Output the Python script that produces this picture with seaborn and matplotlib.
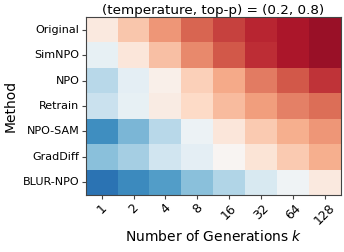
import numpy as np
import pandas as pd
import seaborn as sns
import matplotlib
matplotlib.use("Agg")
import matplotlib.pyplot as plt

methods = ["Original", "SimNPO", "NPO", "Retrain", "NPO-SAM", "GradDiff", "BLUR-NPO"]
ks = ["1", "2", "4", "8", "16", "32", "64", "128"]

original = [0.55, 0.64, 0.72, 0.79, 0.84, 0.88, 0.91, 0.93]
simnpo = [0.46, 0.56, 0.65, 0.74, 0.81, 0.87, 0.91, 0.93]
npo = [0.36, 0.45, 0.53, 0.62, 0.69, 0.76, 0.81, 0.86]
retrain = [0.39, 0.46, 0.54, 0.60, 0.66, 0.71, 0.75, 0.78]
npo_sam = [0.19, 0.27, 0.36, 0.47, 0.56, 0.63, 0.68, 0.72]
graddiff = [0.29, 0.33, 0.40, 0.45, 0.51, 0.57, 0.63, 0.68]
blur_npo = [0.13, 0.18, 0.22, 0.29, 0.35, 0.42, 0.48, 0.55]

df = pd.DataFrame([original, simnpo, npo, retrain, npo_sam, graddiff, blur_npo],
                  index=methods, columns=ks)

fig = plt.figure(figsize=(3.44, 2.52), dpi=100)
ax = fig.add_axes([0.249, 0.226, 0.742, 0.707])
sns.heatmap(df, cmap="RdBu_r", vmin=0, vmax=1, cbar=False, ax=ax)
for s in ax.spines.values():
    s.set_visible(True)
    s.set_color("#444444")
    s.set_linewidth(0.8)
ax.set_xticklabels(ks, rotation=45, fontsize=9)
ax.set_yticklabels(methods, rotation=0, fontsize=8)
ax.tick_params(length=3, width=0.8, color="#444444", pad=1.5)
ax.set_xlabel("Number of Generations $k$", fontsize=10, labelpad=1)
ax.set_ylabel("Method", fontsize=10)
ax.yaxis.set_label_coords(-0.265, 0.5)
ax.set_title("(temperature, top-p) = (0.2, 0.8)", fontsize=9.7, pad=2)
fig.savefig("out.png", dpi=100)
